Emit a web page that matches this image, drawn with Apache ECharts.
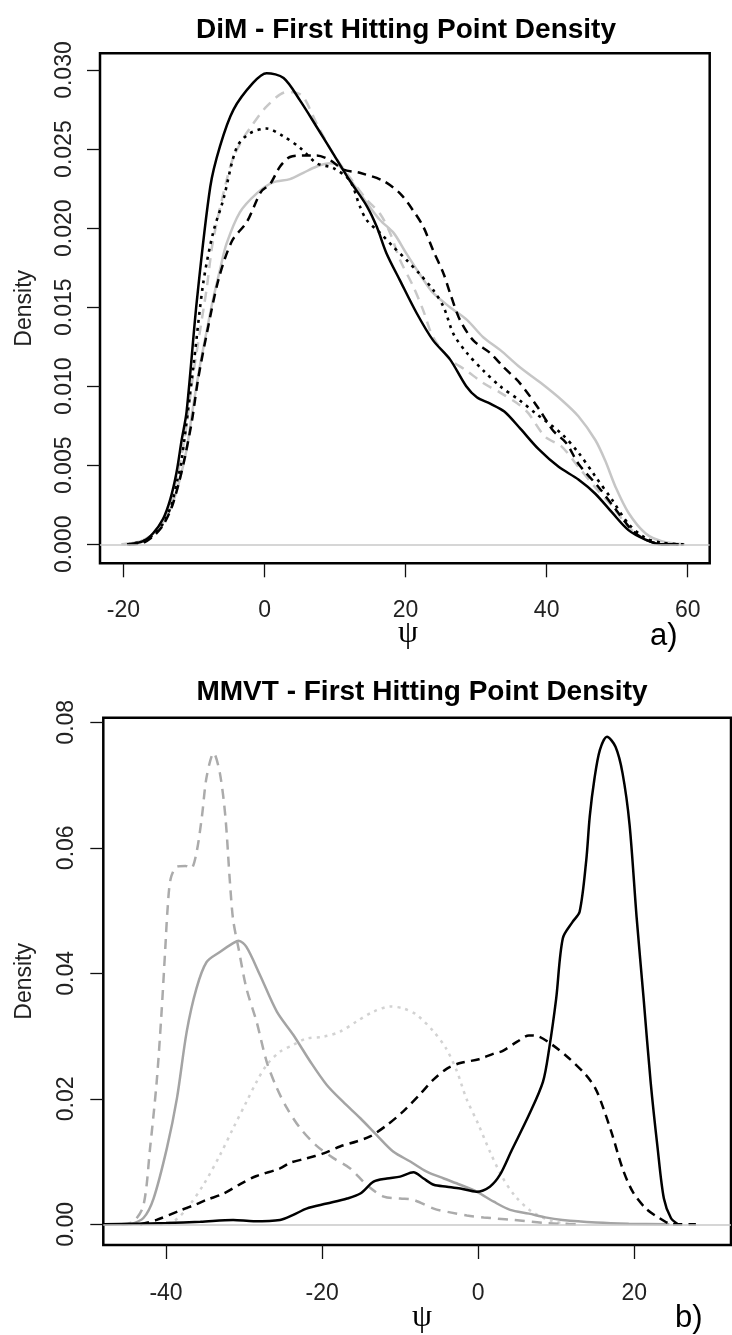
<!DOCTYPE html>
<html>
<head>
<meta charset="utf-8">
<script src="https://cdn.jsdelivr.net/npm/echarts@6/dist/echarts.min.js"></script>
<style>
  html, body { margin: 0; padding: 0; background: #fff; }
  #chart { width: 732px; height: 1335px; }
</style>
</head>
<body>
<div id="chart"></div>
<script>
// ---- Panel a) DiM : first hitting point densities, [psi, density] ----
const dimPsiTicks = [-20, 0, 20, 40, 60];
const dimDensityTicks = [0, 0.005, 0.010, 0.015, 0.020, 0.025, 0.030];

const dimBlackSolid = [[-19.3,0],[-17.2,0.0002],[-15.8,0.0007],[-14.4,0.0016],[-13.4,0.0028],[-12.5,0.0045],[-11.75,0.0066],[-11.05,0.0084],[-9.6,0.0154],[-7.7,0.0226],[-6.3,0.0252],[-4.4,0.0275],[-1.6,0.0292],[0.3,0.0298],[2.7,0.0295],[5.0,0.0281],[7.4,0.0264],[9.75,0.0247],[12.1,0.0230],[14.5,0.0214],[15.9,0.0201],[17.3,0.0184],[19.2,0.0167],[21.6,0.0146],[23.9,0.0129],[26.3,0.0117],[28.6,0.0100],[30.1,0.0093],[32.0,0.0089],[34.0,0.0084],[36.3,0.0073],[38.9,0.0060],[41.7,0.0049],[44.5,0.0041],[46.9,0.0032],[49.3,0.0020],[51.6,0.0009],[54.0,0.0003],[56.3,0.0],[58.7,0.0]];

const dimGrayDashed = [[-20.0,0],[-17.5,0.0002],[-16,0.0006],[-14.5,0.0014],[-13.3,0.0027],[-12.3,0.0045],[-11.3,0.0068],[-10.2,0.0105],[-9.15,0.0135],[-8.2,0.0162],[-7.3,0.0192],[-5.4,0.0230],[-4.4,0.0245],[-3.0,0.0257],[-2.1,0.0263],[0.3,0.0277],[3.1,0.0286],[4.1,0.0286],[5.5,0.0283],[7.4,0.0266],[9.75,0.0247],[12.1,0.0232],[14.5,0.0218],[16.4,0.0209],[17.8,0.0197],[19.2,0.0180],[21.1,0.0163],[22.5,0.0148],[23.9,0.0131],[26.3,0.0117],[28.6,0.0110],[31.0,0.0102],[33.4,0.0096],[36.2,0.0088],[37.4,0.0083],[39.8,0.0068],[42.1,0.0062],[44.5,0.0049],[46.9,0.0036],[49.3,0.0024],[51.6,0.0011],[54.0,0.0003],[56.3,0],[59.5,0]];

const dimBlackDotted = [[-19.5,0],[-17.2,0.0002],[-15.8,0.0006],[-14.4,0.0013],[-13.2,0.0025],[-12.4,0.0040],[-11.8,0.0052],[-10.1,0.0112],[-8.7,0.0165],[-7.3,0.0197],[-5.85,0.0218],[-3.95,0.0251],[-2.1,0.0260],[0.3,0.0263],[2.7,0.0258],[5.0,0.0251],[7.4,0.0241],[9.75,0.0238],[12.1,0.0230],[13.5,0.0214],[14.5,0.0205],[16.4,0.0197],[18.3,0.0188],[20.1,0.0180],[22.0,0.0171],[23.9,0.0161],[25.4,0.0150],[26.8,0.0133],[28.7,0.0121],[31.0,0.0110],[33.4,0.0100],[36.2,0.0091],[38.4,0.0083],[42.1,0.0070],[44.5,0.0058],[46.9,0.0043],[49.3,0.0028],[51.6,0.0013],[54.0,0.0004],[56.3,0.0001],[59.6,0]];

const dimBlackDashed = [[-19.2,0],[-17.2,0.0001],[-15.8,0.0005],[-14.4,0.0012],[-13.2,0.0023],[-12.2,0.0038],[-11.3,0.0055],[-10.3,0.0078],[-9.4,0.0105],[-8.2,0.0133],[-6.5,0.0168],[-4.6,0.0192],[-2.5,0.0204],[-0.5,0.0223],[0.8,0.0228],[2.2,0.0239],[3.6,0.0245],[5.5,0.0246],[7.4,0.0246],[9.3,0.0243],[11.2,0.0237],[13.5,0.0235],[16.8,0.0230],[19.2,0.0222],[21.1,0.0211],[22.5,0.0201],[23.9,0.0186],[25.4,0.0171],[26.3,0.0159],[27.7,0.0142],[29.6,0.0129],[32.0,0.0121],[33.9,0.0112],[36.2,0.0102],[39.0,0.0085],[40.9,0.0072],[42.8,0.0064],[44.5,0.0051],[47.4,0.0036],[49.8,0.0022],[52.1,0.0009],[54.0,0.0003],[56.5,0],[58.7,0]];

const dimGraySolid = [[-20.3,0],[-17.5,0.0002],[-16,0.0006],[-14.5,0.0013],[-13.2,0.0024],[-12.2,0.0038],[-11.05,0.0060],[-10.2,0.0085],[-9.2,0.0112],[-8.2,0.0135],[-7.3,0.0155],[-6.3,0.0174],[-5.4,0.0190],[-3.5,0.0210],[-1.1,0.0222],[1.2,0.0229],[3.6,0.0231],[5.5,0.0235],[7.4,0.0239],[9.3,0.0241],[10.7,0.0239],[12.6,0.0228],[14.5,0.0216],[16.4,0.0205],[18.3,0.0197],[20.1,0.0184],[22.0,0.0171],[23.9,0.0159],[26.3,0.0150],[28.7,0.0142],[31.0,0.0131],[33.4,0.0123],[36.2,0.0112],[39.2,0.0102],[42.2,0.0091],[44.5,0.0081],[46.9,0.0066],[48.3,0.0053],[49.8,0.0036],[51.6,0.0020],[54.0,0.0007],[56.3,0.0002],[59.6,0]];

// ---- Panel b) MMVT : first hitting point densities, [psi, density] ----
const mmvtPsiTicks = [-40, -20, 0, 20];
const mmvtDensityTicks = [0, 0.02, 0.04, 0.06, 0.08];

const mmvtBlackSolid = [[-48,0],[-44,0.0001],[-40,0.0002],[-35.6,0.0004],[-31.4,0.0007],[-28.8,0.0005],[-25.4,0.0007],[-23.7,0.0015],[-22.0,0.0025],[-19.4,0.0033],[-16.8,0.0041],[-15.1,0.0049],[-13.4,0.0068],[-11.7,0.0073],[-10.0,0.0076],[-8.3,0.0083],[-7.0,0.0073],[-5.7,0.0063],[-4.0,0.0060],[-2.3,0.0057],[-0.2,0.0052],[1.5,0.0060],[2.8,0.0079],[4.3,0.0118],[6.5,0.0174],[8.3,0.0227],[9.1,0.0280],[10.0,0.0360],[10.85,0.0456],[12.1,0.0482],[13.0,0.0498],[13.85,0.0580],[14.3,0.0650],[14.9,0.0710],[15.6,0.0756],[16.5,0.0777],[17.6,0.0761],[18.5,0.0719],[19.4,0.0637],[20.3,0.0490],[21.2,0.0360],[22.1,0.0227],[23.0,0.0121],[23.8,0.0041],[24.7,0.0010],[25.6,0]];

const mmvtBlackDashed = [[-43.3,0],[-41.2,0.0007],[-38.2,0.0022],[-36.1,0.0032],[-34.8,0.0039],[-32.6,0.0049],[-30.5,0.0064],[-28.4,0.0077],[-25.4,0.0089],[-24.1,0.0098],[-22.0,0.0105],[-19.8,0.0113],[-17.7,0.0124],[-15.6,0.0132],[-13.85,0.0140],[-11.7,0.0158],[-9.6,0.0180],[-7.4,0.0208],[-5.7,0.0231],[-4.0,0.0248],[-2.3,0.0257],[0.1,0.0263],[2.0,0.0272],[3.1,0.0276],[5.0,0.0291],[6.5,0.0301],[7.8,0.0299],[9.5,0.0286],[11.6,0.0265],[13.8,0.0238],[15.0,0.0217],[15.9,0.0190],[17.2,0.0142],[18.5,0.0089],[19.8,0.0052],[21.5,0.0025],[23.2,0.0010],[24.9,0],[27.9,0]];

const mmvtGraySolid = [[-44.6,0],[-42.9,0.0010],[-41.6,0.0041],[-39.9,0.0121],[-38.6,0.0201],[-37.35,0.0307],[-36.1,0.0376],[-34.8,0.0418],[-33.1,0.0434],[-31.4,0.0448],[-30.7,0.0452],[-29.7,0.0442],[-27.95,0.0397],[-25.8,0.0339],[-23.7,0.0302],[-21.5,0.0259],[-19.4,0.0222],[-17.3,0.0195],[-15.1,0.0169],[-13.0,0.0142],[-10.9,0.0116],[-8.7,0.0100],[-6.6,0.0084],[-4.4,0.0073],[-2.3,0.0063],[-0.2,0.0052],[2.0,0.0036],[4.1,0.0023],[6.5,0.0017],[8.6,0.0011],[10.8,0.0007],[15.1,0.0003],[19.3,0.0001],[24.5,0]];

const mmvtGrayDashed = [[-45.7,0],[-44.2,0.0004],[-42.9,0.0030],[-42.05,0.0121],[-41.2,0.0227],[-40.6,0.0333],[-40.1,0.0439],[-39.8,0.0503],[-39.4,0.0551],[-38.6,0.0570],[-37.5,0.0571],[-36.8,0.0567],[-36.1,0.0592],[-35.4,0.0650],[-34.8,0.0713],[-33.9,0.0751],[-33.1,0.0719],[-32.4,0.0650],[-31.8,0.0543],[-31.4,0.0485],[-30.7,0.0439],[-29.7,0.0376],[-28.4,0.0323],[-27.1,0.0259],[-25.8,0.0217],[-24.5,0.0185],[-22.8,0.0153],[-20.7,0.0125],[-18.5,0.0105],[-16.4,0.0089],[-14.3,0.0063],[-12.1,0.0044],[-10.0,0.0041],[-8.3,0.0039],[-5.7,0.0025],[-3.6,0.0019],[-1.45,0.0014],[0.7,0.0011],[2.5,0.0009],[4.4,0.0007],[8.7,0.0002],[13.0,0]];

const mmvtGrayDotted = [[-40.8,0],[-39.1,0.0004],[-37.35,0.0025],[-35.2,0.0063],[-33.1,0.0110],[-31.4,0.0153],[-29.7,0.0195],[-28.4,0.0227],[-27.1,0.0254],[-25.4,0.0275],[-23.7,0.0286],[-22.0,0.0296],[-19.8,0.0299],[-17.7,0.0307],[-15.6,0.0323],[-13.4,0.0339],[-11.2,0.0347],[-9.6,0.0344],[-7.9,0.0334],[-5.7,0.0307],[-4.1,0.0280],[-2.7,0.0243],[-1.5,0.0200],[0.0,0.0160],[1.5,0.0116],[3.1,0.0075],[4.8,0.0044],[6.9,0.0020],[9.5,0.0005],[12.1,0]];

// ---- drawing ----
const FONT = "'Liberation Sans', Arial, sans-serif";
const LABEL_COLOR = '#222';

function curve(name, data, grid, color, type, width) {
  return {
    name, type: 'line', data,
    xAxisIndex: grid, yAxisIndex: grid,
    showSymbol: false, symbol: 'none',
    smooth: 0.3,
    lineStyle: { color, width: width || 2.5, type: type || 'solid', cap: 'butt' },
    emphasis: { disabled: true },
    silent: true,
    z: 3
  };
}

function zeroLine(grid) {
  // horizontal reference at density 0 across the whole plot region
  return {
    type: 'line', data: [], xAxisIndex: grid, yAxisIndex: grid, silent: true,
    markLine: {
      symbol: 'none', silent: true, animation: false,
      label: { show: false },
      lineStyle: { color: '#c8c8c8', width: 1.5, type: 'solid' },
      data: [{ yAxis: 0 }]
    },
    z: 1
  };
}

function xAxisFor(grid, min, max, ticks, margin) {
  return {
    gridIndex: grid, type: 'value', min, max, position: 'bottom',
    axisLine: { show: false, onZero: false },
    splitLine: { show: false },
    axisTick: { show: true, length: 14, customValues: ticks, lineStyle: { color: '#111', width: 1.3 } },
    axisLabel: {
      show: true, customValues: ticks, margin,
      fontFamily: FONT, fontSize: 23, color: LABEL_COLOR,
      formatter: v => String(v)
    }
  };
}

function yAxisFor(grid, min, max, ticks, digits, margin, nameGap) {
  return {
    gridIndex: grid, type: 'value', min, max, position: 'left',
    name: 'Density', nameLocation: 'middle', nameRotate: 90, nameGap,
    nameTextStyle: { fontFamily: FONT, fontSize: 23, color: LABEL_COLOR },
    axisLine: { show: false, onZero: false },
    splitLine: { show: false },
    axisTick: { show: true, length: 13, customValues: ticks, lineStyle: { color: '#111', width: 1.3 } },
    axisLabel: {
      show: true, customValues: ticks, rotate: 90, margin,
      fontFamily: FONT, fontSize: 23, color: LABEL_COLOR,
      formatter: v => v.toFixed(digits)
    }
  };
}

const chart = echarts.init(document.getElementById('chart'), null, { renderer: 'canvas' });

chart.setOption({
  animation: false,
  backgroundColor: '#fff',
  grid: [
    { left: 100, top: 53.3, width: 609.7, height: 510, show: true, borderColor: '#000', borderWidth: 2.5, containLabel: false, outerBoundsMode: 'none' },
    { left: 103.3, top: 717.7, width: 627.7, height: 527.3, show: true, borderColor: '#000', borderWidth: 2.5, containLabel: false, outerBoundsMode: 'none' }
  ],
  xAxis: [
    xAxisFor(0, -23.33, 63.12, dimPsiTicks, 36),
    xAxisFor(1, -48.04, 32.4, mmvtPsiTicks, 37)
  ],
  yAxis: [
    yAxisFor(0, -0.0012, 0.03106, dimDensityTicks, 3, 24, 64),
    yAxisFor(1, -0.0033, 0.08073, mmvtDensityTicks, 2, 25.5, 67)
  ],
  graphic: [
    { type: 'text', x: 406, y: 30, silent: true,
      style: { text: 'DiM - First Hitting Point Density', textAlign: 'center', textVerticalAlign: 'middle', font: "bold 28px 'Liberation Sans', Arial, sans-serif", fill: '#000' } },
    { type: 'text', x: 422, y: 692.5, silent: true,
      style: { text: 'MMVT - First Hitting Point Density', textAlign: 'center', textVerticalAlign: 'middle', font: "bold 28px 'Liberation Sans', Arial, sans-serif", fill: '#000' } },
    { type: 'text', x: 408, y: 634, silent: true,
      style: { text: 'ψ', textAlign: 'center', textVerticalAlign: 'middle', font: "32px 'Liberation Serif', serif", fill: '#000' } },
    { type: 'text', x: 422, y: 1318, silent: true,
      style: { text: 'ψ', textAlign: 'center', textVerticalAlign: 'middle', font: "32px 'Liberation Serif', serif", fill: '#000' } },
    { type: 'text', x: 650, y: 636, silent: true,
      style: { text: 'a)', textAlign: 'left', textVerticalAlign: 'middle', font: "31px 'Liberation Sans', Arial, sans-serif", fill: '#000' } },
    { type: 'text', x: 675, y: 1318.5, silent: true,
      style: { text: 'b)', textAlign: 'left', textVerticalAlign: 'middle', font: "31px 'Liberation Sans', Arial, sans-serif", fill: '#000' } }
  ],
  series: [
    zeroLine(0),
    curve('DiM grey solid', dimGraySolid, 0, '#c6c6c6', 'solid', 2.5),
    curve('DiM grey dashed', dimGrayDashed, 0, '#c8c8c8', [10, 7], 2.5),
    curve('DiM black dashed', dimBlackDashed, 0, '#000', [9, 6], 2.5),
    curve('DiM black dotted', dimBlackDotted, 0, '#000', [3, 5], 2.6),
    curve('DiM black solid', dimBlackSolid, 0, '#000', 'solid', 2.5),

    zeroLine(1),
    curve('MMVT grey dotted', mmvtGrayDotted, 1, '#d2d2d2', [3, 5], 2.5),
    curve('MMVT grey solid', mmvtGraySolid, 1, '#a4a4a4', 'solid', 2.5),
    curve('MMVT grey dashed', mmvtGrayDashed, 1, '#ababab', [10, 7], 2.5),
    curve('MMVT black dashed', mmvtBlackDashed, 1, '#000', [9, 6], 2.5),
    curve('MMVT black solid', mmvtBlackSolid, 1, '#000', 'solid', 2.5)
  ]
});
</script>
</body>
</html>
